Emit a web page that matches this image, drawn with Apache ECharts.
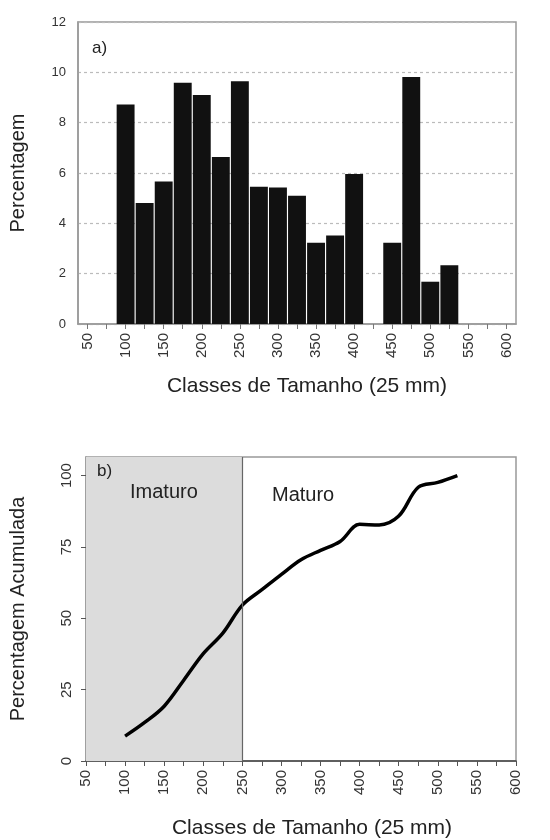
<!DOCTYPE html>
<html>
<head>
<meta charset="utf-8">
<script src="https://cdn.jsdelivr.net/npm/echarts@6/dist/echarts.min.js"></script>
<style>
html,body{margin:0;padding:0;background:#fff;}
#chart{width:550px;height:840px;}
</style>
</head>
<body>
<div id="chart"></div>
<script>
// Size classes (mm), step 25
const classes = ['50','75','100','125','150','175','200','225','250','275','300','325','350','375','400','425','450','475','500','525','550','575','600'];
// Panel a) percentage per class
const percent = [0,0,8.72,4.81,5.66,9.59,9.10,6.64,9.65,5.45,5.42,5.10,3.23,3.52,5.96,0,3.23,9.81,1.68,2.33,0,0,0];
// Panel b) cumulative percentage curve
const cumClasses = [100,125,150,175,200,225,250,275,300,325,350,375,400,425,450,475,500,525];
const cumPercent = [8.7,13.5,19.2,28.3,37.6,44.8,54.6,60.0,65.4,70.5,73.8,76.9,82.9,82.7,85.8,95.9,97.6,100];
const yTicksA = [0,2,4,6,8,10,12];
const yTicksB = [0,25,50,75,100];
const maturityLimit = 250;

const FONT = 'Liberation Sans, Arial, sans-serif';
const chart = echarts.init(document.getElementById('chart'), null, {renderer:'canvas'});

const option = {
  backgroundColor:'#fff',
  animation:false,
  textStyle:{fontFamily:FONT},
  grid:[
    {left:76, right:34, top:22, height:302, show:true, borderColor:'#999', borderWidth:1.5, backgroundColor:'transparent'},
    {left:85, right:34, top:457, height:314, show:true, borderColor:'#999', borderWidth:1.5, backgroundColor:'transparent'}
  ],
  xAxis:[
    {
      type:'category', gridIndex:0, data:classes, boundaryGap:true,
      name:'Classes de Tamanho (25 mm)', nameLocation:'middle', nameGap:52,
      nameTextStyle:{fontSize:21, color:'#222', fontFamily:FONT, padding:[0,0,0,20]},
      axisLine:{show:true, lineStyle:{color:'#999', width:1.5}},
      axisTick:{show:true, alignWithLabel:true, interval:0, length:5, lineStyle:{color:'#777'}},
      axisLabel:{interval:1, rotate:90, fontSize:15, color:'#333', margin:9, fontFamily:FONT},
      splitLine:{show:false}
    },
    {
      type:'value', gridIndex:1, min:50, max:600, interval:50,
      name:'Classes de Tamanho (25 mm)', nameLocation:'middle', nameGap:57,
      nameTextStyle:{fontSize:21, color:'#222', fontFamily:FONT, padding:[0,0,0,22]},
      axisLine:{show:true, lineStyle:{color:'#444', width:1.5}},
      axisTick:{show:true, length:5, lineStyle:{color:'#555'}},
      minorTick:{show:true, splitNumber:2, length:5, lineStyle:{color:'#555'}},
      axisLabel:{rotate:90, fontSize:15, color:'#333', margin:9, fontFamily:FONT},
      splitLine:{show:false}
    }
  ],
  yAxis:[
    {
      type:'value', gridIndex:0, min:0, max:12, interval:2,
      name:'Percentagem', nameLocation:'middle', nameGap:50,
      nameTextStyle:{fontSize:20, color:'#222', fontFamily:FONT},
      axisLine:{show:true, lineStyle:{color:'#999', width:1.5}},
      axisTick:{show:false},
      axisLabel:{fontSize:13, color:'#333', margin:12, fontFamily:FONT,
        formatter:function(v){return yTicksA.indexOf(v)>=0?String(v):'';}},
      splitLine:{show:true, lineStyle:{color:'#bbb', type:[3,3], width:1.2}}
    },
    {
      type:'value', gridIndex:1, min:0, max:106.5,
      name:'Percentagem Acumulada', nameLocation:'middle', nameGap:58,
      nameTextStyle:{fontSize:20, color:'#222', fontFamily:FONT},
      axisLine:{show:true, lineStyle:{color:'#999', width:1.5}},
      axisTick:{show:true, length:5, customValues:yTicksB, lineStyle:{color:'#555'}},
      axisLabel:{rotate:90, fontSize:15, color:'#333', margin:12, fontFamily:FONT, customValues:yTicksB},
      splitLine:{show:false}
    }
  ],
  series:[
    {
      type:'bar', xAxisIndex:0, yAxisIndex:0, data:percent,
      barCategoryGap:'6%',
      itemStyle:{color:'#111'}
    },
    {
      type:'line', xAxisIndex:1, yAxisIndex:1,
      data:cumClasses.map((c,i)=>[c,cumPercent[i]]),
      smooth:0.35, symbol:'none',
      lineStyle:{color:'#000', width:3.5},
      markArea:{silent:true, itemStyle:{color:'#dcdcdc'},
        data:[[{xAxis:50},{xAxis:maturityLimit}]]},
      markLine:{silent:true, symbol:'none', label:{show:false},
        lineStyle:{color:'#666', width:1.2, type:'solid'},
        data:[{xAxis:maturityLimit}]},
      z:3
    }
  ],
  graphic:[
    {type:'text', z:100, left:92, top:40, style:{text:'a)', font:'17px '+FONT, fill:'#222'}},
    {type:'text', z:100, left:97, top:463, style:{text:'b)', font:'17px '+FONT, fill:'#222'}},
    {type:'text', z:100, left:130, top:482, style:{text:'Imaturo', font:'20px '+FONT, fill:'#222'}},
    {type:'text', z:100, left:272, top:485, style:{text:'Maturo', font:'20px '+FONT, fill:'#222'}}
  ]
};
chart.setOption(option);
</script>
</body>
</html>
